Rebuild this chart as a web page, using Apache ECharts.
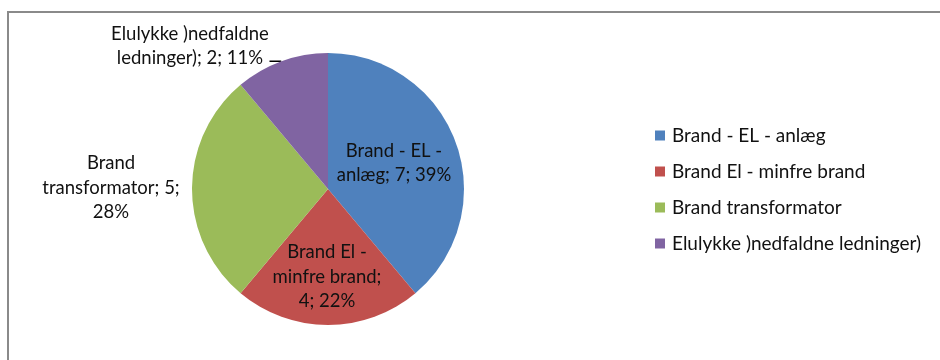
<!DOCTYPE html>
<html>
<head>
<meta charset="utf-8">
<script src="https://cdn.jsdelivr.net/npm/echarts@6/dist/echarts.min.js"></script>
<style>
html,body{margin:0;padding:0;background:#fff;}
#c{width:940px;height:360px;}
</style>
</head>
<body>
<div id="c"></div>
<script>
// Data
var categories = ['Brand - EL - anlæg', 'Brand El - minfre brand', 'Brand transformator', 'Elulykke )nedfaldne ledninger)'];
var values = [7, 4, 5, 2];
// Slice label text lines (name split as in the original)
var labelNameLines = [
  ['Brand - EL -', 'anlæg'],
  ['Brand El -', 'minfre brand'],
  ['Brand', 'transformator'],
  ['Elulykke )nedfaldne', 'ledninger)']
];
var colors = ['#4F81BD', '#C0504D', '#9BBB59', '#8064A2'];

var FONT = 'Lato';
var chart = echarts.init(document.getElementById('c'));

function labelText(p) {
  var n = labelNameLines[p.dataIndex];
  var pct = Math.round(p.percent) + '%';
  switch (p.dataIndex) {
    case 0: return n[0] + '\n' + n[1] + '; ' + p.value + '; ' + pct;
    case 1: return n[0] + '\n' + n[1] + ';\n' + p.value + '; ' + pct;
    case 2: return n[0] + '\n' + n[1] + '; ' + p.value + ';\n' + pct;
    default: return n[0] + '\n' + n[1] + '; ' + p.value + '; ' + pct;
  }
}

var data = categories.map(function (c, i) {
  var d = { name: c, value: values[i], itemStyle: { color: colors[i] } };
  if (i < 2) {
    d.label = { position: 'inside' };
    d.labelLine = { show: false };
  } else if (i === 2) {
    d.label = { position: 'outside' };
    d.labelLine = { show: false };
  } else {
    d.label = { position: 'outside' };
    d.labelLine = { show: true };
  }
  return d;
});

chart.setOption({
  animation: false,
  graphic: [{
    type: 'rect',
    shape: { x: 8, y: 12, width: 960, height: 400 },
    style: { fill: 'none', stroke: '#8a8a8a', lineWidth: 2 },
    silent: true
  }],
  legend: {
    orient: 'vertical',
    left: 650,
    top: 121,
    itemWidth: 10,
    itemHeight: 10,
    itemGap: 17,
    icon: 'rect',
    textStyle: { fontFamily: FONT, fontSize: 19, color: '#111', padding: [0, 0, 0, 2] },
    data: categories
  },
  series: [{
    type: 'pie',
    center: [328, 189],
    radius: 136,
    startAngle: 90,
    clockwise: true,
    percentPrecision: 0,
    itemStyle: { borderWidth: 0 },
    label: {
      formatter: labelText,
      fontFamily: FONT,
      fontSize: 18.5,
      lineHeight: 24.5,
      color: '#111',
      align: 'center'
    },
    labelLine: { length: 4, length2: 8, lineStyle: { color: '#000', width: 1.5 } },
    labelLayout: function (p) {
      if (p.dataIndex === 0) {
        return { x: 394, y: 163, align: 'center', verticalAlign: 'middle' };
      }
      if (p.dataIndex === 1) {
        return { x: 327, y: 277, align: 'center', verticalAlign: 'middle' };
      }
      if (p.dataIndex === 2) {
        return { x: 111, y: 188, align: 'center', verticalAlign: 'middle' };
      }
      var p0 = p.labelLinePoints ? p.labelLinePoints[0] : null;
      var res = { x: 190, y: 46, align: 'center', verticalAlign: 'middle' };
      if (p0) {
        res.labelLinePoints = [[p0[0] - 1, p0[1] + 3], [p0[0] - 1, p0[1]], [p0[0] - 12, p0[1]]];
      }
      return res;
    },
    data: data
  }]
});
</script>
</body>
</html>
